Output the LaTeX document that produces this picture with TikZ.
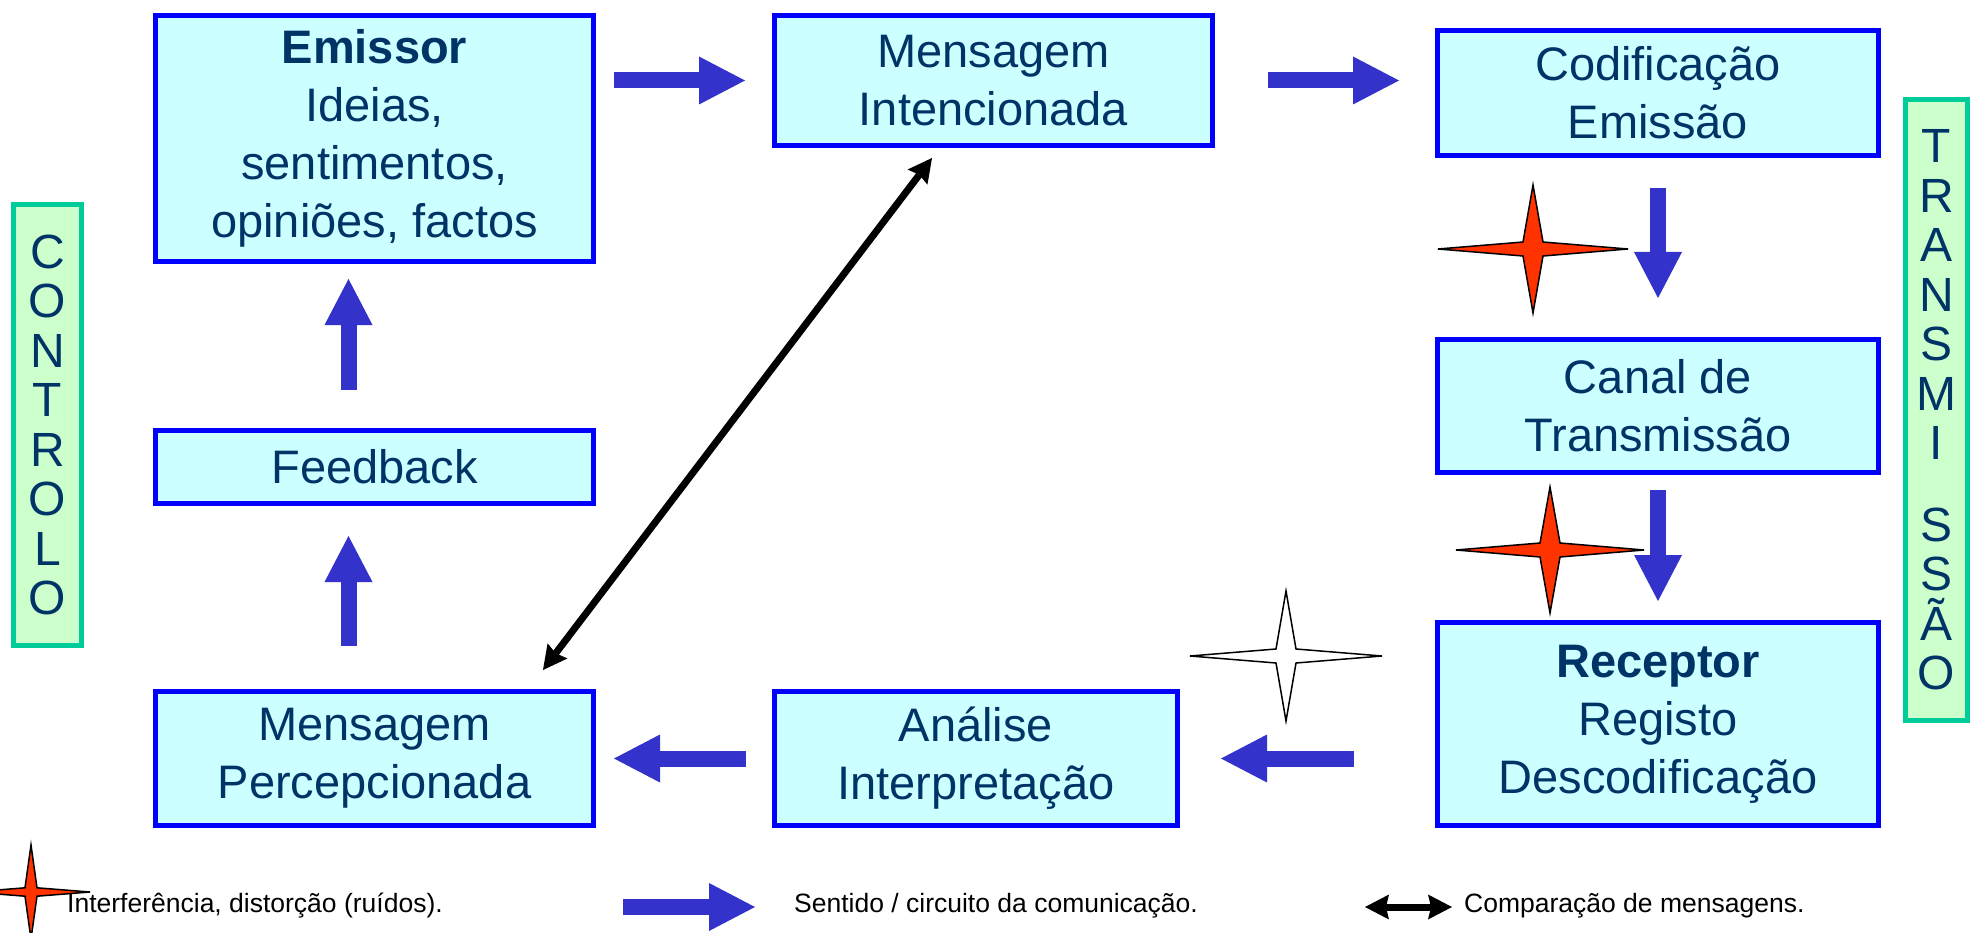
\documentclass[tikz,border=0pt]{standalone}
\usepackage{fontspec}
\setmainfont{Liberation Sans}
\usetikzlibrary{arrows.meta}
\definecolor{azul}{HTML}{0000FF}
\definecolor{ciano}{HTML}{CCFFFF}
\definecolor{marinho}{HTML}{003366}
\definecolor{verde}{HTML}{00CC99}
\definecolor{verdeclaro}{HTML}{CCFFCC}
\definecolor{seta}{HTML}{3333CC}
\definecolor{ruido}{HTML}{FF3300}
\tikzset{
  caixa/.style={draw=azul, fill=ciano, line width=5pt, text=marinho, align=center, inner sep=0pt, font=\fontsize{47}{58}\selectfont},
  faixa/.style={draw=verde, fill=verdeclaro, line width=5pt, text=marinho, align=center, inner sep=0pt, font=\fontsize{48}{49.5}\selectfont},
  fluxo/.style={draw=seta, line width=16pt, -{Triangle[length=46pt,width=48pt,line width=0pt]}},
  dupla/.style={draw=black, line width=7pt, {Stealth[length=24pt,width=25pt,inset=3pt,line width=0pt]}-{Stealth[length=24pt,width=25pt,inset=3pt,line width=0pt]}},
  estrela/.style={draw=black, line width=1.5pt, line join=miter},
  legenda/.style={font=\fontsize{26.5}{32}\selectfont, anchor=base west, inner sep=0pt},
}
\begin{document}
\begin{tikzpicture}[x=1pt,y=-1pt]
    \useasboundingbox (0,0) rectangle (1972,933);

    \node[caixa, minimum width=438pt, minimum height=246pt] (1) at (374.5,138.5) {\textbf{Emissor}\\Ideias,\\sentimentos,\\opiniões, factos};
    \node[caixa, minimum width=438pt, minimum height=130pt] (2) at (993.5,80.5) {Mensagem\\Intencionada};
    \node[caixa, minimum width=441pt, minimum height=125pt] (3) at (1658,93) {Codificação\\Emissão};
    \node[caixa, minimum width=441pt, minimum height=133pt] (4) at (1658,406) {Canal de\\Transmissão};
    \node[caixa, minimum width=441pt, minimum height=203pt] (5) at (1658,724) {\textbf{Receptor}\\Registo\\Descodificação};
    \node[caixa, minimum width=403pt, minimum height=134pt] (6) at (976,758.5) {Análise\\Interpretação};
    \node[caixa, minimum width=438pt, minimum height=134pt] (7) at (374.5,758.5) {Mensagem\\Percepcionada};
    \node[caixa, minimum width=438pt, minimum height=73pt] (8) at (374.5,467) {Feedback};

    \node[faixa, minimum width=68pt, minimum height=441pt] (controlo) at (47.5,425) {C\\O\\N\\T\\R\\O\\L\\O};
    \node[faixa, minimum width=62pt, minimum height=621pt] (transmissao) at (1936.5,410) {T\\R\\A\\N\\S\\M\\I\\[32pt]S\\S\\Ã\\O};

    \draw[fluxo, shorten <=18pt, shorten >=27pt] (1.east |- 2.west) -- (2.west);
    \draw[fluxo, shorten <=53pt, shorten >=36pt] (2.east) -- (2.east -| 3.west);
    \draw[fluxo, shorten <=30pt, shorten >=39pt] (3.south) -- (4.north);
    \draw[fluxo, shorten <=15pt, shorten >=19pt] (4.south) -- (5.north);
    \draw[fluxo, shorten <=81pt, shorten >=41pt] (5.west |- 6.east) -- (6.east);
    \draw[fluxo, shorten <=26pt, shorten >=18pt] (6.west) -- (7.east);
    \draw[fluxo, shorten <=43pt, shorten >=30pt] ([xshift=-26pt]7.north) -- ([xshift=-26pt]8.south);
    \draw[fluxo, shorten <=38pt, shorten >=15pt] ([xshift=-26pt]8.north) -- ([xshift=-26pt]1.south);

    \draw[dupla] ([xshift=-53pt,yshift=19pt]7.north east) -- ([xshift=160pt,yshift=-10pt]2.south west);

    \foreach \x/\y/\w/\h/\i/\cor in {1533/249/95/64/10/ruido, 1550/550/94/63/10/ruido, 1286/656/96/65/10/white, 31/892/59/47/6/ruido}
        \draw[estrela, fill=\cor] (\x+\w,\y) -- (\x+\i,\y+0.7*\i) -- (\x,\y+\h) -- (\x-\i,\y+0.7*\i) -- (\x-\w,\y) -- (\x-\i,\y-0.7*\i) -- (\x,\y-\h) -- (\x+\i,\y-0.7*\i) -- cycle;

    \node[legenda] (ruidos) at (67,912) {Interferência, distorção (ruídos).};
    \node[legenda] (sentido) at (794,912) {Sentido / circuito da comunicação.};
    \node[legenda] (mensagens) at (1464,912) {Comparação de mensagens.};
    \draw[fluxo] ([xshift=-171pt,yshift=5pt]sentido.base west) -- ([xshift=-39pt,yshift=5pt]sentido.base west);
    \draw[dupla] ([xshift=-99pt,yshift=5pt]mensagens.base west) -- ([xshift=-12pt,yshift=5pt]mensagens.base west);
\end{tikzpicture}
\end{document}
